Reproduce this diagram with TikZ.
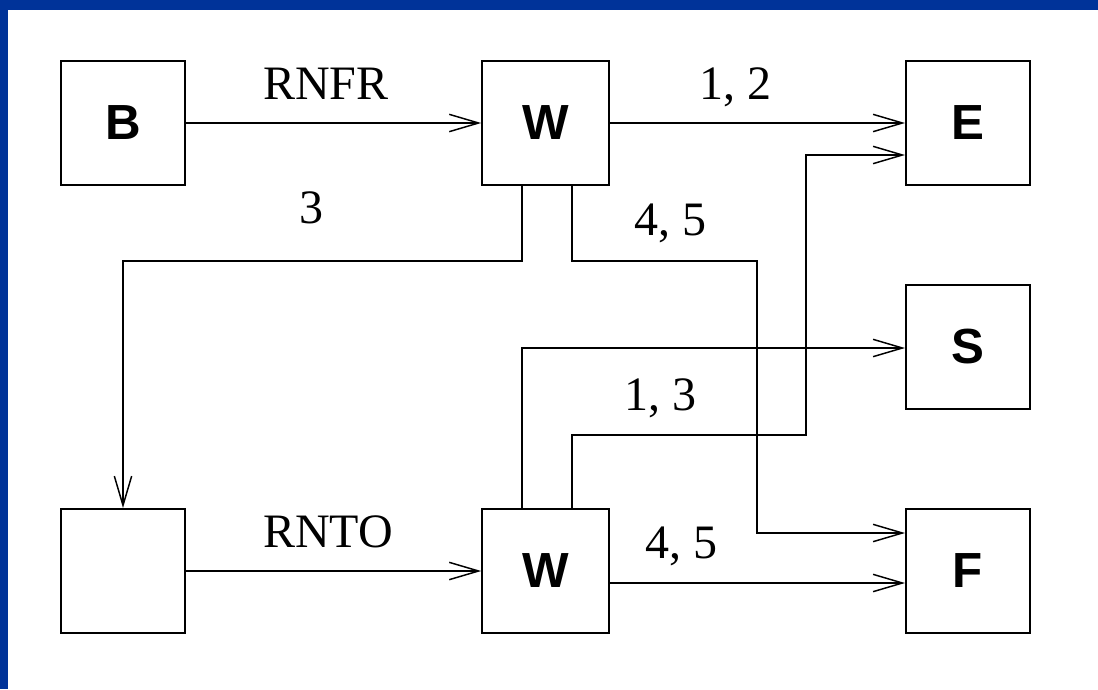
\documentclass[tikz,border=0pt]{standalone}
\usepackage{fontspec}
\setmainfont{Liberation Serif}
\newfontfamily\boxfont{Liberation Sans}
\usetikzlibrary{arrows.meta}
\definecolor{frameblue}{RGB}{0,51,153}
\begin{document}
\begin{tikzpicture}[x=0.75pt,y=-0.75pt,
  boxnode/.style={draw,line width=1.5pt,minimum width=93pt,minimum height=93pt,inner sep=0pt,
    font=\boxfont\bfseries\fontsize{37}{40}\selectfont},
  wbox/.style={boxnode,minimum width=95pt},
  lbl/.style={anchor=base,inner sep=0pt,font=\fontsize{36}{40}\selectfont},
  conn/.style={line width=1.5pt,-{Straight Barb[length=22pt,width=13pt,line width=1.1pt]}},
  wire/.style={line width=1.5pt}]
\useasboundingbox (0,0) rectangle (1098,689);
\fill[white] (0,0) rectangle (1098,689);
\fill[frameblue] (0,0) rectangle (1098,10);
\fill[frameblue] (0,0) rectangle (8,689);
% boxes
\node[boxnode] (B) at (123,123) {B};
\node[wbox] (W1) at (545.5,123) {W};
\node[boxnode] (E) at (968,123) {E};
\node[boxnode] (S) at (968,347) {S};
\node[boxnode] (X) at (123,571) {};
\node[wbox] (W2) at (545.5,571) {W};
\node[boxnode] (F) at (968,571) {F};
% helper coordinates
\coordinate (p1) at (522,261);
\coordinate (p2) at (572,261);
\coordinate (p3) at (757,533);
\coordinate (q0) at (522,348);
\coordinate (q1) at (572,435);
\coordinate (q2) at (806,155);
\coordinate (r) at (0,583);
% connectors
\draw[conn] (B.east) -- (W1.west);
\draw[conn] (W1.east) -- (E.west);
\draw[conn] (W1.south -| p1) -- (p1) -| (X.north);
\draw[conn] (W1.south -| p2) -- (p2) -| (p3) -- (F.west |- p3);
\draw[conn] (W2.north -| q0) |- (S.west |- q0);
\draw[conn] (W2.north -| q1) -- (q1) -| (q2) -- (E.west |- q2);
\draw[conn] (X.east) -- (W2.west);
\draw[conn] (W2.east |- r) -- (F.west |- r);
% labels
\node[lbl] (l1) at (326,99) {RNFR};
\node[lbl] (l2) at (735,99) {1, 2};
\node[lbl] (l3) at (311,223) {3};
\node[lbl] (l4) at (670,235) {4, 5};
\node[lbl] (l5) at (660,410) {1, 3};
\node[lbl] (l6) at (328,547) {RNTO};
\node[lbl] (l7) at (681,558) {4, 5};
\end{tikzpicture}
\end{document}
